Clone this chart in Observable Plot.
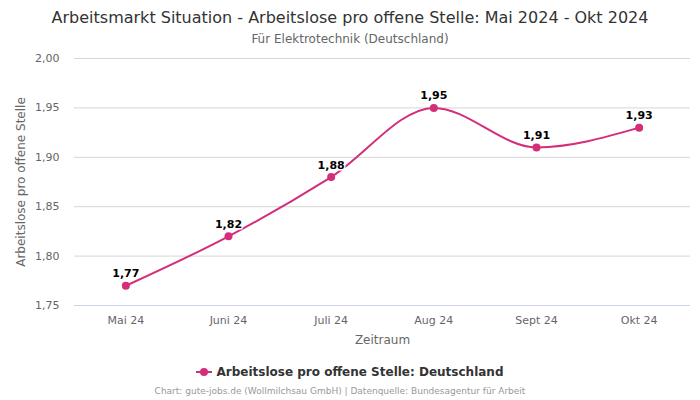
<!DOCTYPE html>
<html>
<head>
<meta charset="utf-8">
<script src="https://cdn.jsdelivr.net/npm/d3@7"></script>
<script src="https://cdn.jsdelivr.net/npm/@observablehq/plot@0.6"></script>
<style>
  html, body { margin: 0; padding: 0; background: #fff; }
  body { width: 700px; height: 400px; font-family: "DejaVu Sans", sans-serif; position: relative; overflow: hidden; }
  #title { position: absolute; top: 8px; left: 0; width: 700px; text-align: center; font-size: 16px; color: #333; }
  #subtitle { position: absolute; top: 32px; left: 0; width: 700px; text-align: center; font-size: 12px; color: #666; }
  #chart { position: absolute; top: 48px; left: 0; }
  #legend { position: absolute; top: 365px; left: 0; width: 700px; text-align: center; font-size: 12px; font-weight: bold; color: #333; }
  #legend svg { vertical-align: middle; margin-right: 4px; position: relative; top: -1px; }
  #caption { position: absolute; top: 386px; left: 0; width: 680px; text-align: center; font-size: 9px; color: #999; }
</style>
</head>
<body>
<div id="title">Arbeitsmarkt Situation - Arbeitslose pro offene Stelle: Mai 2024 - Okt 2024</div>
<div id="subtitle">Für Elektrotechnik (Deutschland)</div>
<div id="chart"></div>
<div id="legend"><svg width="16" height="10"><line x1="0" y1="5" x2="16" y2="5" stroke="#d42e7b" stroke-width="2"/><circle cx="8" cy="5" r="4" fill="#d42e7b"/></svg>Arbeitslose pro offene Stelle: Deutschland</div>
<div id="caption">Chart: gute-jobs.de (Wollmilchsau GmbH) | Datenquelle: Bundesagentur für Arbeit</div>
<script>
const months = ["Mai 24", "Juni 24", "Juli 24", "Aug 24", "Sept 24", "Okt 24"];
const values = [1.77, 1.82, 1.88, 1.95, 1.91, 1.93];
const yTicks = [1.75, 1.80, 1.85, 1.90, 1.95, 2.00];
const seriesName = "Arbeitslose pro offene Stelle: Deutschland";
const color = "#d42e7b";

const data = months.map((m, i) => ({ month: m, value: values[i] }));
const fmt = v => v.toFixed(2).replace(".", ",");

const chart = Plot.plot({
  width: 700,
  height: 304,
  marginTop: 10,
  marginBottom: 47,
  marginLeft: 74,
  marginRight: 10,
  style: { fontFamily: "DejaVu Sans, sans-serif", fontSize: "11px", color: "#666", background: "transparent" },
  x: { type: "point", domain: months, padding: 0.5, round: false },
  y: { domain: [1.75, 2.0] },
  marks: [
    Plot.gridY(yTicks, { stroke: "#d6d6d6", strokeOpacity: 1 }),
    Plot.ruleY([1.75], { stroke: "#ccd6eb" }),
    Plot.axisY(yTicks, {
      tickFormat: fmt, tickSize: 0, tickPadding: 15, fontSize: 11, fill: "#666",
      label: null
    }),
    Plot.text([seriesName], {
      text: () => "Arbeitslose pro offene Stelle",
      frameAnchor: "left", textAnchor: "middle", lineAnchor: "middle",
      dx: -53, rotate: -90, fontSize: 12, fill: "#666"
    }),
    Plot.axisX({
      tickSize: 0, tickPadding: 11, fontSize: 11, fill: "#666",
      label: null
    }),
    Plot.text(["Zeitraum"], {
      frameAnchor: "bottom", lineAnchor: "middle", dy: 35, fontSize: 12, fill: "#666"
    }),
    Plot.line(data, { x: "month", y: "value", stroke: color, strokeWidth: 2, curve: "monotone-x" }),
    Plot.dot(data, { x: "month", y: "value", fill: color, r: 4 }),
    Plot.text(data, {
      x: "month", y: "value", text: d => fmt(d.value), dy: -12,
      fontWeight: "bold", fontSize: 11, fill: "#000", stroke: "white", strokeWidth: 3
    })
  ]
});
document.getElementById("chart").appendChild(chart);
</script>
</body>
</html>
